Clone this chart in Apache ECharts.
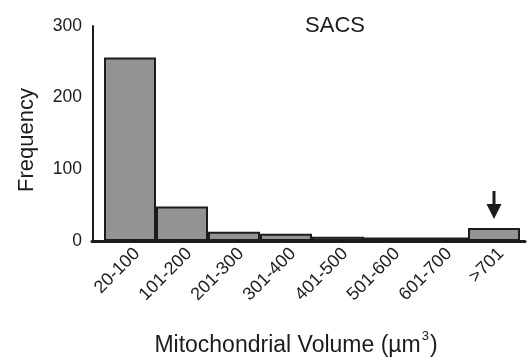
<!DOCTYPE html>
<html>
<head>
<meta charset="utf-8">
<script src="https://cdn.jsdelivr.net/npm/echarts@6/dist/echarts.min.js"></script>
<style>
  html, body { margin: 0; padding: 0; background: #fff; }
  #chart { width: 531px; height: 360px; }
</style>
</head>
<body>
<div id="chart"></div>
<script>
// Mitochondrial volume bins and counts
const volumeBins = ['20-100', '101-200', '201-300', '301-400', '401-500', '501-600', '601-700', '>701'];
const frequency = [256, 48, 13, 10, 6, 5, 5, 18];
const yTicks = [0, 100, 200, 300];
const flaggedBin = '>701';

const FONT = '"Liberation Sans", Arial, Helvetica, sans-serif';
const INK = '#1c1c1c';

const chart = echarts.init(document.getElementById('chart'), null, { renderer: 'canvas' });

// downward arrow: shaft plus triangular head
const arrowPath = 'path://M5.6,0 L8.4,0 L8.4,13 L14,13 L7,28 L0,13 L5.6,13 Z';

chart.setOption({
  animation: false,
  backgroundColor: '#ffffff',
  title: [
    {
      text: 'SACS',
      left: 330, top: 10, textAlign: 'center',
      textStyle: { fontFamily: FONT, fontSize: 22, fontWeight: 'normal', color: INK }
    },
    {
      text: '{a|Mitochondrial Volume (µm}{s|3}{a|)}',
      left: 291, top: 325, textAlign: 'center',
      textStyle: {
        fontWeight: 'normal',
        rich: {
          a: { fontFamily: FONT, fontSize: 23, fontWeight: 'normal', color: INK, verticalAlign: 'bottom', lineHeight: 27 },
          s: { fontFamily: FONT, fontSize: 13, fontWeight: 'normal', color: INK, verticalAlign: 'top', padding: [0, 1, 14, 1], lineHeight: 27 }
        }
      }
    }
  ],
  graphic: [
    {
      type: 'text',
      x: 27, y: 140, rotation: Math.PI / 2,
      style: {
        text: 'Frequency', fill: INK, font: '22px ' + FONT,
        align: 'center', verticalAlign: 'middle'
      }
    }
  ],
  grid: [
    { left: 104, right: 11, top: 26, bottom: 119 },   // bars
    { left: 92, right: 6, top: 26, bottom: 119 },     // baseline
    { left: 111, right: 4, top: 26, bottom: 119 }     // category labels
  ],
  xAxis: [
    {
      type: 'category', gridIndex: 0, data: volumeBins,
      axisLine: { show: false }, axisTick: { show: false }, axisLabel: { show: false }
    },
    {
      type: 'value', gridIndex: 1, min: 0, max: 1,
      axisLine: { show: true, onZero: false, lineStyle: { color: INK, width: 3 } },
      axisTick: { show: false }, axisLabel: { show: false }, splitLine: { show: false }
    },
    {
      type: 'category', gridIndex: 2, data: volumeBins,
      axisLine: { show: false }, axisTick: { show: false },
      axisLabel: {
        rotate: 45, margin: 10, interval: 0,
        fontFamily: FONT, fontSize: 18, color: INK
      }
    }
  ],
  yAxis: [
    {
      type: 'value', gridIndex: 0, min: yTicks[0], max: yTicks[yTicks.length - 1], interval: 100,
      offset: 11,
      axisLine: { show: true, lineStyle: { color: INK, width: 2 } },
      axisTick: { show: false }, splitLine: { show: false },
      axisLabel: { margin: 11, fontFamily: FONT, fontSize: 17.5, color: INK }
    },
    { type: 'value', gridIndex: 1, show: false },
    { type: 'value', gridIndex: 2, show: false }
  ],
  series: [
    {
      type: 'bar', xAxisIndex: 0, yAxisIndex: 0,
      data: frequency,
      barWidth: '100%', barCategoryGap: 0,
      itemStyle: { color: '#939393', borderColor: INK, borderWidth: 2 },
      markPoint: {
        silent: true,
        data: [{
          coord: [flaggedBin, frequency[volumeBins.indexOf(flaggedBin)]],
          symbol: arrowPath, symbolSize: [15, 28], symbolKeepAspect: false,
          symbolOffset: [0, -23],
          itemStyle: { color: INK },
          label: { show: false }
        }]
      }
    }
  ]
});
</script>
</body>
</html>
